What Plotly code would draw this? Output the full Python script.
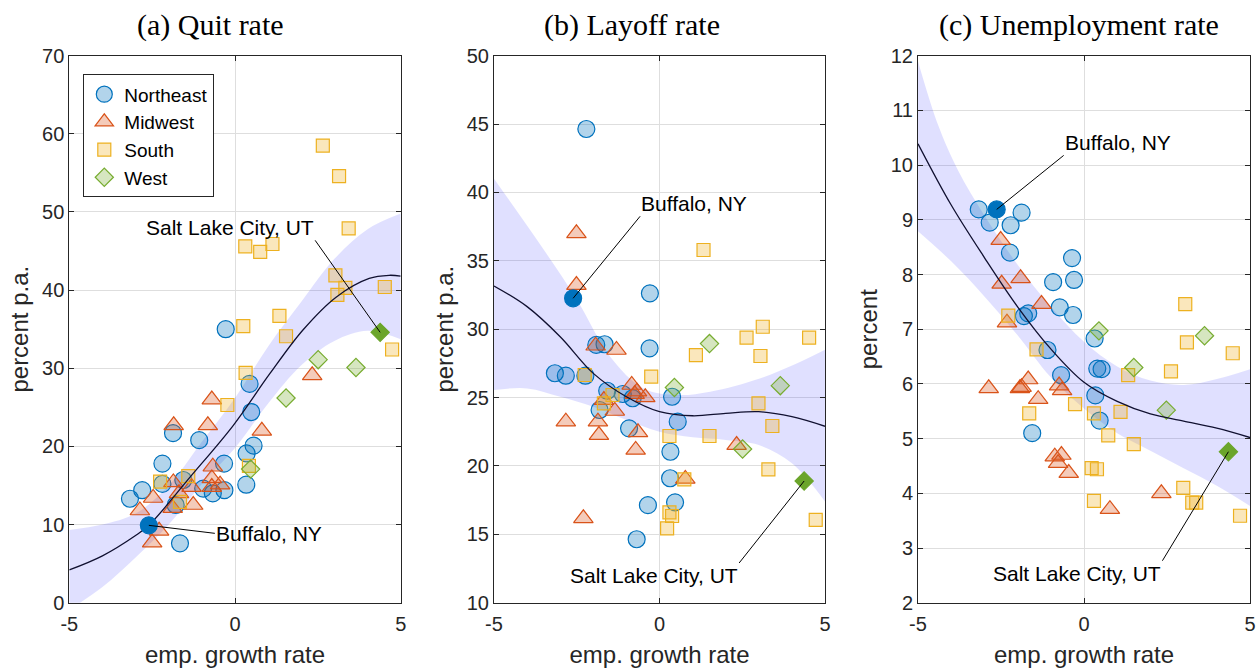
import plotly.graph_objects as go

# ---------------- panel (a): quit rate ----------------
qa_ne_x = [-0.28, 0.44, 0.49, 0.56, 0.35, 0.34, -0.33, -1.08, -1.87, -2.19, -2.80, -3.17, -2.19, -1.56, -1.79, -0.96, -0.67, -0.32, -1.66]
qa_ne_y = [35.0, 28.0, 24.4, 20.1, 19.1, 15.1, 17.8, 20.8, 21.7, 17.8, 14.4, 13.3, 15.2, 15.7, 12.5, 14.6, 14.0, 14.4, 7.6]
qa_mw_x = [-0.70, -0.82, -1.85, 0.81, 2.33, -0.67, -0.70, -0.45, -0.70, -1.86, -1.31, -1.69, -2.47, -2.87, -1.88, -1.26, -2.29, -2.50]
qa_mw_y = [26.0, 22.7, 22.7, 22.0, 29.1, 17.4, 15.9, 15.1, 14.8, 15.4, 14.8, 14.0, 13.4, 11.8, 12.1, 12.5, 9.2, 7.7]
qa_so_x = [2.65, 3.14, 3.43, 0.31, 0.76, 1.13, 3.03, 3.33, 3.09, 4.52, 1.34, 0.25, 1.54, 4.74, 0.32, -0.23, -2.26, -1.41, 0.42, -1.66]
qa_so_y = [58.5, 54.6, 47.9, 45.6, 44.9, 45.9, 41.9, 40.3, 39.4, 40.4, 36.7, 35.4, 34.1, 32.4, 29.4, 25.3, 15.5, 16.2, 17.5, 12.9]
qa_we_x = [2.51, 3.65, 1.54, 0.47]
qa_we_y = [31.1, 30.1, 26.2, 17.1]
qa_buf = (-2.60, 9.9)
qa_slc = (4.38, 34.6)
qa_fit_x = [-5, -4, -3, -2.6, -1.35, -0.05, 1.05, 2.05, 3.05, 4.05, 4.65, 5]
qa_fit_y = [4.2, 6.0, 8.6, 9.9, 16.1, 22.7, 29.3, 34.9, 39.1, 41.5, 41.9, 41.8]
qa_band_x = [-5, -4, -3, -2, -1, 0, 1, 2, 3, 4, 5]
qa_band_hi = [9.3, 10.0, 11.4, 15.0, 20.6, 26.2, 32.8, 38.5, 44.0, 47.8, 49.8]
qa_band_lo = [-0.9, 2.0, 5.8, 10.0, 15.2, 19.8, 25.5, 30.4, 33.5, 34.8, 33.7]

# ---------------- panel (b): layoff rate ----------------
lb_ne_x = [-2.21, -0.29, -0.30, -1.91, -1.66, -3.16, -2.83, -2.24, -1.58, -1.11, -0.81, 0.38, -1.81, 0.55, -0.92, 0.33, 0.32, -0.35, 0.47, -0.69]
lb_ne_y = [44.64, 32.62, 28.60, 28.85, 28.90, 26.78, 26.60, 26.60, 25.50, 25.26, 24.95, 25.06, 24.09, 23.24, 22.75, 21.04, 19.10, 17.14, 17.34, 14.64]
lb_mw_x = [-2.51, -2.51, -1.93, -1.30, -0.84, -0.68, -0.75, -0.43, -1.68, -1.35, -2.83, -1.86, -1.83, -0.65, -0.72, 2.33, 0.78, -2.30]
lb_mw_y = [37.01, 33.23, 28.79, 28.48, 25.92, 25.43, 25.25, 25.02, 24.82, 24.02, 23.24, 23.24, 22.26, 22.46, 21.17, 21.53, 19.05, 16.17]
lb_so_x = [1.33, 3.12, 2.63, 4.52, 1.10, 3.05, -0.25, -2.26, -1.42, -1.68, 2.99, 3.41, 0.30, 1.51, 3.29, 0.75, 0.30, 0.38, 0.23, 4.72]
lb_so_y = [35.79, 30.18, 29.38, 29.38, 28.11, 28.04, 26.53, 26.65, 25.19, 24.58, 24.58, 22.92, 22.19, 22.19, 19.75, 19.02, 16.61, 16.34, 15.44, 16.05]
lb_we_x = [1.51, 0.45, 3.65, 2.51]
lb_we_y = [28.95, 25.74, 25.87, 21.24]
lb_buf = (-2.61, 32.26)
lb_slc = (4.37, 18.90)
lb_fit_x = [-5, -4, -3, -2, -1, 0, 1, 2, 3, 4, 5]
lb_fit_y = [33.16, 31.65, 29.45, 26.77, 25.06, 23.97, 23.67, 23.85, 23.97, 23.6, 22.9]
lb_hi_x = [-5, -3.49, -2.49, -1.49, -0.48, 0.52, 1.53, 3.03, 4.04, 5]
lb_hi_y = [41.0, 35.79, 32.13, 27.99, 25.67, 25.19, 25.43, 26.4, 27.38, 28.5]
lb_lo_x = [-5, -4, -3, -2, -1, 0, 1, 2, 3, 4, 5]
lb_lo_y = [25.55, 25.67, 25.06, 24.33, 23.36, 22.5, 22.09, 21.9, 21.53, 20.19, 17.4]

# ---------------- panel (c): unemployment rate ----------------
uc_ne_x = [-3.17, -2.84, -2.21, -1.88, -2.23, -0.36, -0.93, -0.30, -0.73, -0.33, -1.81, -1.68, 0.32, -1.10, 0.40, 0.53, -0.69, 0.34, 0.47, -1.56]
uc_ne_y = [9.19, 8.95, 8.90, 9.13, 8.40, 8.30, 7.86, 7.90, 7.40, 7.26, 7.24, 7.29, 6.83, 6.62, 6.28, 6.27, 6.16, 5.79, 5.33, 5.10]
uc_mw_x = [-2.51, -2.48, -1.91, -1.28, -2.32, -2.87, -1.88, -1.93, -1.68, -1.38, -0.75, -0.66, -0.88, -0.68, -0.78, -0.46, 2.33, 0.78]
uc_mw_y = [8.63, 7.83, 7.93, 7.46, 7.12, 5.92, 5.94, 5.92, 6.08, 5.72, 5.97, 5.88, 4.67, 4.70, 4.55, 4.37, 4.00, 3.71]
uc_so_x = [3.05, -2.28, 3.10, 4.48, -1.43, 2.62, 1.33, -0.27, -1.65, 0.30, 1.10, 0.73, 1.50, 0.23, 0.39, 0.30, 2.99, 3.26, 3.38, 4.70]
uc_so_y = [7.46, 7.25, 6.76, 6.56, 6.63, 6.23, 6.16, 5.63, 5.46, 5.46, 5.49, 5.06, 4.90, 4.46, 4.44, 3.86, 4.10, 3.83, 3.83, 3.59]
uc_we_x = [0.45, 3.63, 1.50, 2.48]
uc_we_y = [6.97, 6.88, 6.30, 5.52]
uc_buf = (-2.63, 9.19)
uc_slc = (4.35, 4.76)
uc_fit_x = [-5, -4, -3, -2, -1, 0, 1, 2, 3, 4, 5]
uc_fit_y = [10.39, 9.27, 8.31, 7.41, 6.64, 6.03, 5.68, 5.45, 5.32, 5.19, 5.02]
uc_hi_x = [-5, -4.4, -3.8, -3, -2, -1, 0, 1, 2, 3, 4, 5]
uc_hi_y = [11.9, 10.74, 9.91, 9.08, 8.18, 7.41, 6.77, 6.32, 6.06, 5.98, 6.09, 6.27]
uc_lo_x = [-5, -4, -3, -2, -1, 0, 1, 2, 3, 4, 5]
uc_lo_y = [8.79, 8.24, 7.6, 6.89, 6.12, 5.55, 5.1, 4.78, 4.46, 4.14, 3.77]

titles = ["(a) Quit rate", "(b) Layoff rate", "(c) Unemployment rate"]
ylabels = ["percent p.a.", "percent p.a.", "percent"]
xlabel = "emp. growth rate"
x_ticks = [-5, 0, 5]
x_ticktext = ["-5", "0", "5"]
regions = ["Northeast", "Midwest", "South", "West"]

# region styles: (edge colour, fill colour, symbol, size)
styles = {
    "Northeast": ("#0072BD", "rgba(0,114,189,0.30)", "circle", 17),
    "Midwest": ("#D95319", "rgba(217,83,25,0.30)", "triangle-up", 17),
    "South": ("#EDB120", "rgba(237,177,32,0.30)", "square", 13),
    "West": ("#77AC30", "rgba(119,172,48,0.30)", "diamond", 14),
}

panels = [
    dict(pts={"Northeast": (qa_ne_x, qa_ne_y), "Midwest": (qa_mw_x, qa_mw_y),
              "South": (qa_so_x, qa_so_y), "West": (qa_we_x, qa_we_y)},
         buf=qa_buf, slc=qa_slc, fit=(qa_fit_x, qa_fit_y),
         hi=(qa_band_x, qa_band_hi), lo=(qa_band_x, qa_band_lo),
         yrange=[0, 70], dtick=10),
    dict(pts={"Northeast": (lb_ne_x, lb_ne_y), "Midwest": (lb_mw_x, lb_mw_y),
              "South": (lb_so_x, lb_so_y), "West": (lb_we_x, lb_we_y)},
         buf=lb_buf, slc=lb_slc, fit=(lb_fit_x, lb_fit_y),
         hi=(lb_hi_x, lb_hi_y), lo=(lb_lo_x, lb_lo_y),
         yrange=[10, 50], dtick=5),
    dict(pts={"Northeast": (uc_ne_x, uc_ne_y), "Midwest": (uc_mw_x, uc_mw_y),
              "South": (uc_so_x, uc_so_y), "West": (uc_we_x, uc_we_y)},
         buf=uc_buf, slc=uc_slc, fit=(uc_fit_x, uc_fit_y),
         hi=(uc_hi_x, uc_hi_y), lo=(uc_lo_x, uc_lo_y),
         yrange=[2, 12], dtick=1),
]

W, H = 1257, 668
x_domains = [[69.3 / W, 400.7 / W], [494 / W, 825 / W], [918 / W, 1250 / W]]
y_domain = [1 - 602.7 / H, 1 - 55.7 / H]
title_cx = [211, 632, 1079]

# label offsets (pixels) for the highlighted cities: (ax, ay, xanchor, yanchor)
buf_off = [(66, 8, "left", "middle"), (67, -82, "left", "bottom"), (67, -54, "left", "bottom")]
slc_off = [(-65, -92, "right", "bottom"), (-65, 82, "right", "top"), (-66, 109, "right", "top")]

SANS = "Liberation Sans, Arial, sans-serif"
AX = "#262626"

fig = go.Figure()
annotations = []

for i, p in enumerate(panels):
    xa = "x" if i == 0 else f"x{i + 1}"
    ya = "y" if i == 0 else f"y{i + 1}"

    # confidence band
    fig.add_trace(go.Scatter(x=p["hi"][0], y=p["hi"][1], mode="lines", line=dict(width=0, shape="spline"),
                             showlegend=False, hoverinfo="skip", xaxis=xa, yaxis=ya))
    fig.add_trace(go.Scatter(x=p["lo"][0], y=p["lo"][1], mode="lines", line=dict(width=0, shape="spline"),
                             fill="tonexty", fillcolor="rgba(0,0,255,0.12)",
                             showlegend=False, hoverinfo="skip", xaxis=xa, yaxis=ya))

    # city markers by region
    for r in regions:
        edge, fillc, sym, size = styles[r]
        xs, ys = p["pts"][r]
        fig.add_trace(go.Scatter(
            x=xs, y=ys, mode="markers", name=r, legendgroup=r, showlegend=(i == 0),
            marker=dict(symbol=sym, size=size, color=fillc, line=dict(color=edge, width=1.2)),
            xaxis=xa, yaxis=ya))

    # fitted curve
    fig.add_trace(go.Scatter(x=p["fit"][0], y=p["fit"][1], mode="lines",
                             line=dict(color="#101030", width=1.3, shape="spline"),
                             showlegend=False, hoverinfo="skip", xaxis=xa, yaxis=ya))

    # highlighted cities
    fig.add_trace(go.Scatter(x=[p["buf"][0]], y=[p["buf"][1]], mode="markers", showlegend=False,
                             marker=dict(symbol="circle", size=17, color="#0072BD",
                                         line=dict(color="#0072BD", width=1.2)),
                             xaxis=xa, yaxis=ya))
    fig.add_trace(go.Scatter(x=[p["slc"][0]], y=[p["slc"][1]], mode="markers", showlegend=False,
                             marker=dict(symbol="diamond", size=14, color="#6BA52B",
                                         line=dict(color="#6BA52B", width=1.2)),
                             xaxis=xa, yaxis=ya))

    for (cx, cy), (ax, ay, xan, yan), txt in [(p["buf"], buf_off[i], "Buffalo, NY"),
                                              (p["slc"], slc_off[i], "Salt Lake City, UT")]:
        annotations.append(dict(x=cx, y=cy, xref=xa, yref=ya, text=txt, showarrow=True,
                                arrowhead=0, arrowwidth=1, arrowcolor="black", standoff=0,
                                ax=ax, ay=ay, xanchor=xan, yanchor=yan, borderpad=0,
                                font=dict(family=SANS, size=21, color="black")))

    annotations.append(dict(x=title_cx[i] / W, y=1 - 25 / H, xref="paper", yref="paper",
                            text=titles[i], showarrow=False, xanchor="center", yanchor="middle",
                            font=dict(family="Liberation Serif, Times New Roman, serif", size=30,
                                      color="black")))

    axis_common = dict(showline=True, linecolor=AX, linewidth=1, mirror="ticks",
                       ticks="inside", ticklen=5, tickcolor=AX, zeroline=False,
                       showgrid=True, gridcolor="#dedede", gridwidth=1,
                       tickfont=dict(family=SANS, size=20, color=AX), automargin=False)
    xkey = "xaxis" if i == 0 else f"xaxis{i + 1}"
    ykey = "yaxis" if i == 0 else f"yaxis{i + 1}"
    fig.layout[xkey] = dict(axis_common, domain=x_domains[i], range=[-5, 5],
                            tickmode="array", tickvals=x_ticks, ticktext=x_ticktext,
                            ticklabelstandoff=3, anchor=ya,
                            title=dict(text=xlabel, standoff=12,
                                       font=dict(family=SANS, size=24, color=AX)))
    fig.layout[ykey] = dict(axis_common, domain=y_domain, range=p["yrange"], dtick=p["dtick"],
                            tick0=p["yrange"][0], anchor=xa,
                            title=dict(text=ylabels[i], standoff=6,
                                       font=dict(family=SANS, size=24, color=AX)))

fig.update_layout(
    width=W, height=H,
    margin=dict(l=0, r=0, t=0, b=0),
    paper_bgcolor="white", plot_bgcolor="white",
    annotations=annotations,
    legend=dict(x=83.3 / W, y=1 - 74.3 / H, xanchor="left", yanchor="top",
                bgcolor="white", bordercolor=AX, borderwidth=1,
                font=dict(family=SANS, size=19, color="black"),
                tracegroupgap=0, itemsizing="trace"),
    showlegend=True,
)

fig.write_html("out.html")
